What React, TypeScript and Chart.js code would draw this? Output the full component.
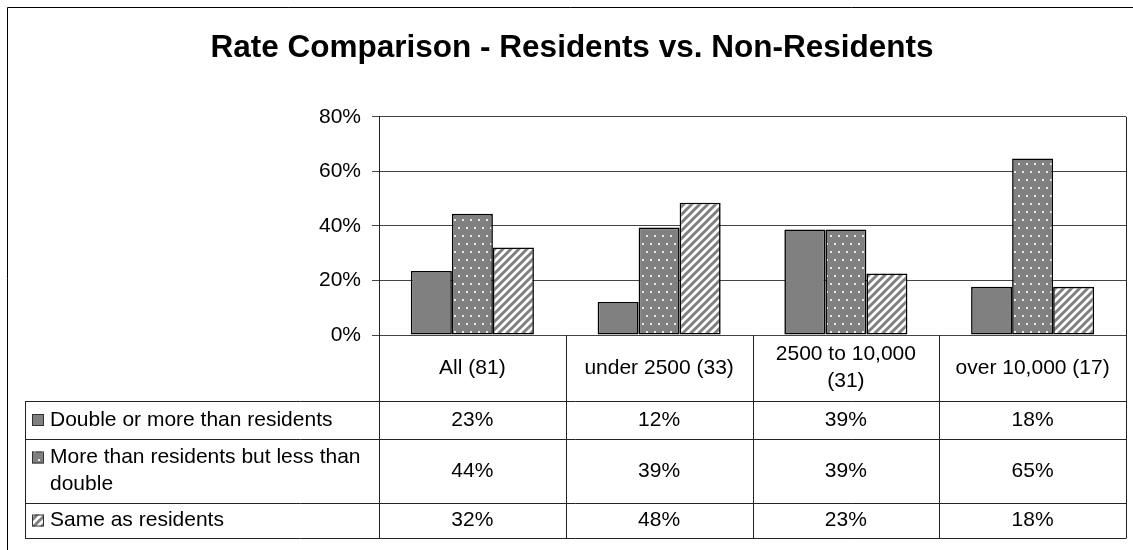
import React, { useEffect, useRef } from 'react';
import { Chart, registerables } from 'chart.js';

Chart.register(...registerables);

const chartTitle = 'Rate Comparison - Residents vs. Non-Residents';
const categories: string[][] = [['All (81)'], ['under 2500 (33)'], ['2500 to 10,000', '(31)'], ['over 10,000 (17)']];
const seriesNames: string[][] = [['Double or more than residents'], ['More than residents but less than', 'double'], ['Same as residents']];
const doubleOrMore = [23.46, 12.12, 38.71, 17.65];
const moreButLessThanDouble = [44.44, 39.39, 38.71, 64.71];
const sameAsResidents = [32.1, 48.48, 22.58, 17.65];
const yTickStep = 20;
const yMax = 80;

const FONT = "'Liberation Sans', Arial, sans-serif";
const TEXT_SIZE = 21;

function solidPattern(): string {
  return '#808080';
}

function dotPattern(): CanvasPattern | string {
  const c = document.createElement('canvas');
  c.width = 8;
  c.height = 16;
  const g = c.getContext('2d');
  if (!g) return '#808080';
  g.fillStyle = '#808080';
  g.fillRect(0, 0, 8, 16);
  g.fillStyle = '#e8e8e8';
  g.fillRect(2, 3, 2, 2);
  g.fillRect(6, 11, 2, 2);
  return g.createPattern(c, 'repeat') || '#808080';
}

function stripePattern(): CanvasPattern | string {
  const c = document.createElement('canvas');
  c.width = 8;
  c.height = 8;
  const g = c.getContext('2d');
  if (!g) return '#ffffff';
  g.fillStyle = '#ffffff';
  g.fillRect(0, 0, 8, 8);
  g.strokeStyle = '#808080';
  g.lineWidth = 3;
  g.beginPath();
  g.moveTo(-2, 10);
  g.lineTo(10, -2);
  g.moveTo(-2, 2);
  g.lineTo(2, -2);
  g.moveTo(6, 10);
  g.lineTo(10, 6);
  g.stroke();
  return g.createPattern(c, 'repeat') || '#ffffff';
}

export default function App() {
  const ref = useRef<HTMLCanvasElement | null>(null);

  useEffect(() => {
    const canvas = ref.current;
    if (!canvas) return;
    const fills = [solidPattern(), dotPattern(), stripePattern()];
    const seriesValues = [doubleOrMore, moreButLessThanDouble, sameAsResidents];

    const tablePlugin = {
      id: 'dataTable',
      afterDraw(chart: any) {
        const { ctx, chartArea: a, scales } = chart;
        const xs = scales.x;
        const n = categories.length;
        const colW = (a.right - a.left) / n;
        const L = a.left;
        const R = a.right;
        const B = a.bottom;
        const catBottom = B + 66;
        const rows = [catBottom, catBottom + 38, catBottom + 102, catBottom + 137];
        const tableLeft = 25;
        const bottom = rows[rows.length - 1];
        const p = (v: number) => Math.round(v) + 0.5;

        ctx.save();
        ctx.lineWidth = 1;
        ctx.strokeStyle = '#222';
        ctx.beginPath();
        for (let i = 0; i <= n; i++) {
          const xx = p(L + i * colW);
          ctx.moveTo(xx, i === n ? a.top : B);
          ctx.lineTo(xx, bottom);
        }
        rows.forEach((y) => {
          ctx.moveTo(tableLeft, p(y));
          ctx.lineTo(p(R), p(y));
        });
        ctx.moveTo(p(tableLeft), rows[0]);
        ctx.lineTo(p(tableLeft), p(bottom));
        ctx.stroke();

        ctx.strokeStyle = '#000';
        ctx.beginPath();
        ctx.moveTo(7.5, 550);
        ctx.lineTo(7.5, 7.5);
        ctx.lineTo(1133, 7.5);
        ctx.stroke();

        ctx.fillStyle = '#000';
        ctx.font = `${TEXT_SIZE}px ${FONT}`;
        ctx.textBaseline = 'middle';
        const lineH = 27;

        ctx.textAlign = 'center';
        categories.forEach((lines, i) => {
          const cx = xs.getPixelForValue(i);
          const cy = (B + catBottom) / 2;
          lines.forEach((t, k) => {
            ctx.fillText(t, cx, cy + (k - (lines.length - 1) / 2) * lineH);
          });
        });

        seriesNames.forEach((lines, r) => {
          const top = rows[r];
          const bot = rows[r + 1];
          const cy = (top + bot) / 2;
          const firstY = cy - ((lines.length - 1) / 2) * lineH;
          ctx.fillStyle = fills[r] as any;
          ctx.fillRect(32, firstY - 6, 12, 12);
          ctx.strokeStyle = '#333';
          ctx.strokeRect(32.5, firstY - 5.5, 11, 11);
          ctx.fillStyle = '#000';
          ctx.textAlign = 'left';
          lines.forEach((t, k) => ctx.fillText(t, 50, firstY + k * lineH));
          ctx.textAlign = 'center';
          seriesValues[r].forEach((v, i) => {
            ctx.fillText(Math.round(v) + '%', xs.getPixelForValue(i), cy);
          });
        });
        ctx.restore();
      },
    };

    const chart = new Chart(canvas, {
      type: 'bar',
      data: {
        labels: categories.map((c) => c.join(' ')),
        datasets: seriesNames.map((name, i) => ({
          label: name.join(' '),
          data: seriesValues[i],
          backgroundColor: fills[i] as any,
          borderColor: '#000',
          borderWidth: 1.6,
          borderSkipped: false,
          categoryPercentage: 0.659,
          barPercentage: 1,
        })),
      },
      options: {
        animation: false,
        responsive: false,
        maintainAspectRatio: false,
        layout: { padding: { left: 18, right: 7, top: 0, bottom: 215 } },
        plugins: {
          legend: { display: false },
          tooltip: { enabled: false },
          title: {
            display: true,
            text: chartTitle,
            color: '#000',
            font: { family: FONT, size: 31.5, weight: 'bold' },
            padding: { top: 29, bottom: 50 },
          },
        },
        scales: {
          x: {
            display: false,
            grid: { display: false },
          },
          y: {
            min: 0,
            max: yMax,
            afterFit: (s: any) => {
              s.width = 379 - 18;
            },
            ticks: {
              stepSize: yTickStep,
              color: '#000',
              font: { family: FONT, size: TEXT_SIZE },
              padding: 11,
              callback: (v: any) => v + '%',
            },
            grid: {
              color: '#444',
              lineWidth: 1,
              tickLength: 7,
              drawTicks: true,
            },
            border: { display: true, color: '#222', width: 1 },
          },
        },
      },
      plugins: [tablePlugin],
    });
    return () => chart.destroy();
  }, []);

  return (
    <div style={{ position: 'fixed', left: 0, top: 0, width: 1133, height: 550, background: '#fff' }}>
      <canvas ref={ref} width={1133} height={550} style={{ display: 'block' }} />
    </div>
  );
}
